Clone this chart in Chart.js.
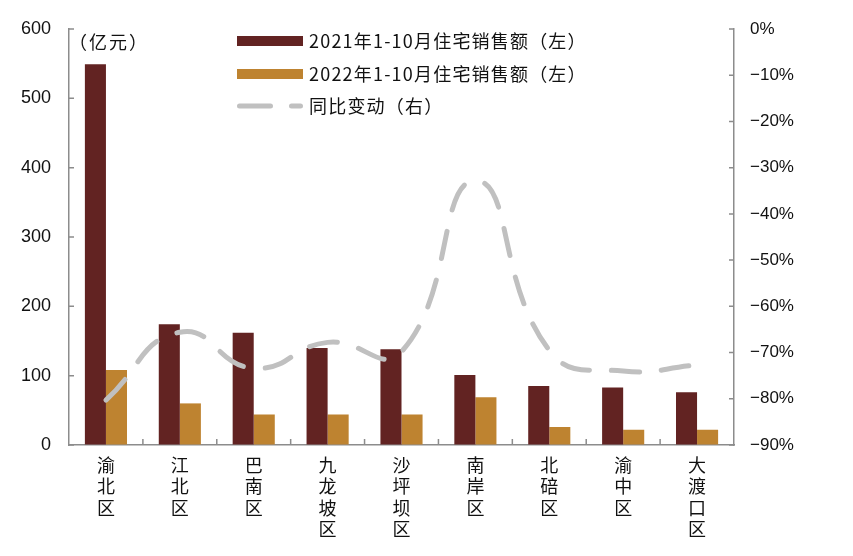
<!DOCTYPE html>
<html>
<head>
<meta charset="utf-8">
<script src="https://cdn.jsdelivr.net/npm/chart.js@4.4.0/dist/chart.umd.min.js"></script>
<style>
  html, body { margin: 0; padding: 0; background: #fff; }
  #wrap { width: 853px; height: 556px; position: relative; }
</style>
</head>
<body>
<div id="wrap"><canvas id="salesChart" width="853" height="556"></canvas></div>
<script>
// districts
var districts = [["渝","北","区"],["江","北","区"],["巴","南","区"],["九","龙","坡","区"],["沙","坪","坝","区"],
                 ["南","岸","区"],["北","碚","区"],["渝","中","区"],["大","渡","口","区"]];
// 亿元
var sales2021 = [549, 174, 162, 140, 138, 101, 85, 83, 76];
var sales2022 = [108, 60, 44, 44, 44, 69, 26, 22, 22];
// %
var yoyChange = [-80.3, -65.6, -73.4, -67.8, -69.8, -32.8, -69.5, -74.0, -72.7];

var leftTicks = [0, 100, 200, 300, 400, 500, 600];
var rightTicks = [0, -10, -20, -30, -40, -50, -60, -70, -80, -90];

var seriesNames = ["2021年1-10月住宅销售额（左）", "2022年1-10月住宅销售额（左）", "同比变动（右）"];
var unitLabel = "（亿元）";

var COL_2021 = "#622322";
var COL_2022 = "#BE8330";
var COL_LINE = "#C0C0C0";
var AXIS_COL = "#8c8c8c";
var CJK = "'Noto Sans CJK SC', 'Noto Sans', sans-serif";
var NUM = "'Liberation Sans', Arial, sans-serif";

// inward tick marks + legend + unit text
var extrasPlugin = {
  id: 'extras',
  afterDraw: function (chart) {
    var ctx = chart.ctx;
    var area = chart.chartArea;
    var y = chart.scales.y, y2 = chart.scales.y2, x = chart.scales.x;
    ctx.save();
    ctx.strokeStyle = AXIS_COL;
    ctx.lineWidth = 1.5;
    ctx.beginPath();
    leftTicks.forEach(function (v) {
      var py = y.getPixelForValue(v);
      ctx.moveTo(area.left, py); ctx.lineTo(area.left + 5, py);
    });
    rightTicks.forEach(function (v) {
      var py = y2.getPixelForValue(v);
      ctx.moveTo(area.right, py); ctx.lineTo(area.right - 5, py);
    });
    for (var i = 1; i < districts.length; i++) {
      var px = (x.getPixelForValue(i - 1) + x.getPixelForValue(i)) / 2;
      ctx.moveTo(px, area.bottom); ctx.lineTo(px, area.bottom - 6);
    }
    ctx.stroke();

    // legend
    var lx = 237, lw = 66, rows = [41, 74, 106];
    ctx.fillStyle = COL_2021;
    ctx.fillRect(lx, rows[0] - 5, lw, 10);
    ctx.fillStyle = COL_2022;
    ctx.fillRect(lx, rows[1] - 5, lw, 10);
    ctx.strokeStyle = COL_LINE;
    ctx.lineWidth = 5;
    ctx.lineCap = 'round';
    ctx.setLineDash([31, 21]);
    ctx.beginPath();
    ctx.moveTo(lx + 2.5, rows[2]); ctx.lineTo(lx + lw - 2.5, rows[2]);
    ctx.stroke();
    ctx.setLineDash([]);

    ctx.fillStyle = "#111";
    ctx.font = "18px " + CJK;
    ctx.letterSpacing = "1.2px";
    ctx.textBaseline = 'middle';
    ctx.textAlign = 'left';
    for (var r = 0; r < 3; r++) {
      ctx.fillText(seriesNames[r], 309, rows[r]);
    }
    ctx.letterSpacing = "2px";
    ctx.fillText(unitLabel, 69, 42);
    ctx.restore();
  }
};

var barData = {
  labels: districts,
  datasets: [
    {
      type: 'line',
      label: seriesNames[2],
      data: yoyChange,
      yAxisID: 'y2',
      borderColor: COL_LINE,
      borderWidth: 5,
      borderDash: [28, 22],
      borderCapStyle: 'round',
      tension: 0.5,
      pointRadius: 0,
      fill: false,
      order: 1
    },
    {
      label: seriesNames[0],
      data: sales2021,
      backgroundColor: COL_2021,
      yAxisID: 'y',
      categoryPercentage: 0.57,
      barPercentage: 1,
      order: 2
    },
    {
      label: seriesNames[1],
      data: sales2022,
      backgroundColor: COL_2022,
      yAxisID: 'y',
      categoryPercentage: 0.57,
      barPercentage: 1,
      order: 2
    }
  ]
};

var barOptions = {
  responsive: false,
  animation: false,
  layout: { padding: { top: 29, left: 0, right: 0, bottom: 0 } },
  plugins: { legend: { display: false }, tooltip: { enabled: false } },
  scales: {
    x: {
      grid: { display: true, drawOnChartArea: false, drawTicks: false },
      border: { display: true, color: AXIS_COL, width: 1.5 },
      ticks: { color: "#111", font: { family: CJK, size: 18, lineHeight: 1.2 }, padding: 9, maxRotation: 0, autoSkip: false },
      afterFit: function (s) { s.height = 111; }
    },
    y: {
      position: 'left',
      min: 0, max: 600,
      grid: { display: true, drawOnChartArea: false, drawTicks: false },
      border: { display: true, color: AXIS_COL, width: 1.5 },
      ticks: { stepSize: 100, color: "#111", font: { family: NUM, size: 18 }, padding: 18 },
      afterFit: function (s) { s.width = 69; }
    },
    y2: {
      position: 'right',
      min: -90, max: 0,
      grid: { display: true, drawOnChartArea: false, drawTicks: false },
      border: { display: true, color: AXIS_COL, width: 1.5 },
      ticks: {
        stepSize: 10, color: "#111", font: { family: NUM, size: 17 }, padding: 16,
        callback: function (v) { return v === 0 ? '0%' : '\u2212' + Math.abs(v) + '%'; }
      },
      afterFit: function (s) { s.width = 119; }
    }
  }
};

var salesChart = new Chart(document.getElementById('salesChart').getContext('2d'), {
  type: 'bar',
  data: barData,
  options: barOptions,
  plugins: [extrasPlugin]
});
</script>
</body>
</html>
